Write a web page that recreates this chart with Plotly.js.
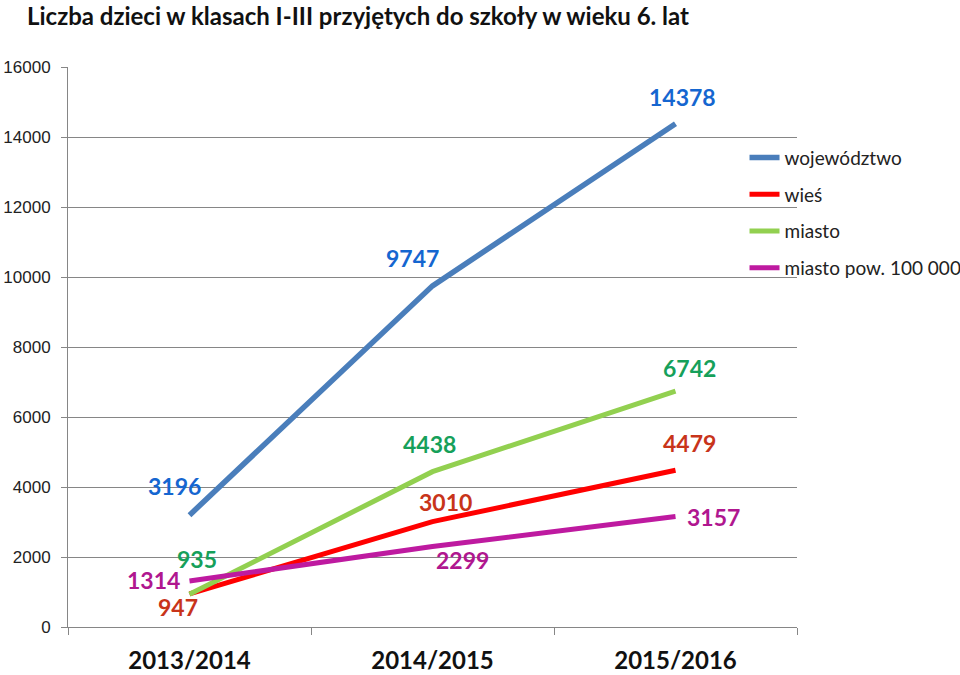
<!DOCTYPE html>
<html>
<head>
<meta charset="utf-8">
<script src="https://cdn.plot.ly/plotly-3.0.1.min.js"></script>
<style>
  html, body { margin: 0; padding: 0; background: #fff; }
  #chart { width: 960px; height: 675px; }
</style>
</head>
<body>
<div id="chart"></div>
<script>
  // --- dane ---------------------------------------------------------------
  const years = ["2013/2014", "2014/2015", "2015/2016"];
  const seriesNames = ["województwo", "wieś", "miasto", "miasto pow. 100 000"];
  const wojewodztwo = [3196, 9747, 14378];
  const wies = [947, 3010, 4479];
  const miasto = [935, 4438, 6742];
  const miastoPow = [1314, 2299, 3157];

  const LINE_COLORS = ["#4A7EBB", "#FF0000", "#92D050", "#BE1AA0"];
  const LABEL_COLORS = ["#1566D0", "#C8341A", "#16A05A", "#B0178F"];
  const LABEL_FONT = "Lato, 'Open Sans', sans-serif";

  // przesunięcia etykiet względem punktów (px)
  const labelShift = [
    [[-15, 29], [-20, 28], [7, 27]],
    [[-12, -13], [13, 20], [14, 27]],
    [[7, 35], [-3, 28], [14, 23]],
    [[-36, 1], [30, -13], [38, 0]],
  ];

  const values = [wojewodztwo, wies, miasto, miastoPow];

  const traces = values.map((v, i) => ({
    x: years,
    y: v,
    type: "scatter",
    mode: "lines",
    name: seriesNames[i],
    legendgroup: "g" + i,
    line: { color: LINE_COLORS[i], width: i === 0 ? 5.5 : 5 },
    hoverinfo: "skip",
  }));

  const annotations = [];
  values.forEach((v, i) => {
    v.forEach((val, j) => {
      annotations.push({
        x: years[j], y: val, xref: "x", yref: "y",
        text: String(val), showarrow: false,
        xshift: labelShift[i][j][0], yshift: labelShift[i][j][1],
        font: { family: LABEL_FONT, size: 23, color: LABEL_COLORS[i], weight: "bold" },
      });
    });
  });

  const layout = {
    width: 960, height: 675,
    paper_bgcolor: "#fff", plot_bgcolor: "#fff",
    margin: { l: 68, r: 163, t: 67, b: 48, autoexpand: false },
    title: {
      text: "<b>Liczba dzieci w klasach I-III przyjętych do szkoły w wieku 6. lat</b>",
      x: 27 / 960, xanchor: "left", y: 0.988, yanchor: "top",
      font: { family: LABEL_FONT, size: 24, color: "#111" },
    },
    xaxis: {
      type: "category", range: [-0.5, 2.5],
      showgrid: false, showline: true, linecolor: "#868686", linewidth: 1,
      ticks: "outside", tickson: "boundaries", ticklen: 7, tickcolor: "#868686",
      ticklabelstandoff: 12,
      tickfont: { family: LABEL_FONT, size: 24, color: "#111", weight: "bold" },
      fixedrange: true,
    },
    yaxis: {
      range: [0, 16000], dtick: 2000, tick0: 0, tickformat: "d",
      showgrid: true, gridcolor: "#868686", gridwidth: 1,
      showline: true, linecolor: "#868686", linewidth: 1,
      zeroline: false,
      ticks: "outside", ticklen: 6, tickcolor: "#868686",
      ticklabelstandoff: 7,
      tickfont: { family: "'Liberation Sans', Arial, sans-serif", size: 17, color: "#222" },
      fixedrange: true,
    },
    showlegend: true,
    legend: {
      x: 0.928, xanchor: "left", y: 0.872, yanchor: "top",
      bgcolor: "rgba(0,0,0,0)", tracegroupgap: 9,
      font: { family: LABEL_FONT, size: 19, color: "#222" },
    },
    annotations: annotations,
  };

  Plotly.newPlot("chart", traces, layout, { displayModeBar: false, staticPlot: true });
</script>
</body>
</html>
